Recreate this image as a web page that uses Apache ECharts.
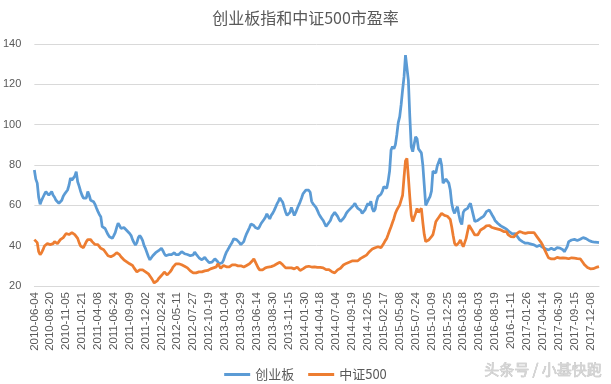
<!DOCTYPE html>
<html>
<head>
<meta charset="utf-8">
<script src="https://cdn.jsdelivr.net/npm/echarts@6/dist/echarts.min.js"></script>
<style>
html,body{margin:0;padding:0;background:#fff;}
#chart{width:611px;height:384px;}
</style>
</head>
<body>
<div id="chart"></div>
<script>
// Tick labels (every 11th weekly point)
const tickLabels = [
  "2010-06-04","2010-08-20","2010-11-05","2011-01-21","2011-04-08","2011-06-24",
  "2011-09-09","2011-12-02","2012-02-24","2012-05-11","2012-07-27","2012-10-19",
  "2013-01-04","2013-03-29","2013-06-14","2013-08-30","2013-11-15","2014-01-30",
  "2014-04-18","2014-07-04","2014-09-19","2014-12-05","2015-02-17","2015-05-08",
  "2015-07-24","2015-10-09","2015-12-25","2016-03-18","2016-06-03","2016-08-19",
  "2016-11-11","2017-01-26","2017-04-14","2017-06-30","2017-09-15","2017-12-08"
];
const pointsPerTick = 11;
const pointsAfterLast = 6;

// 创业板 PE (weekly)
const chinext = [
  77.5,73,71,64,60.5,62.5,64,65.5,66.8,66,65,
  65.5,66.8,65,64,62.5,61.8,61,61.8,62.5,64.5,65.7,
  66.5,67.6,70,73.5,72.5,72,74.5,76.7,71.7,69.5,67,
  65,63.6,63,63.6,66.8,65,62.5,62,61.8,60.5,58.7,
  57,55.5,54.4,49.4,49,48.5,47,45.5,44.4,44,43.6,
  45,46.5,49,51.1,50,48.5,48,49,48.5,47.5,47,
  46,45,43,41.5,40.3,41.5,44,45,44,42.5,40,
  38.5,36.5,34.5,33,34,35,35.5,36.5,37,37.5,38.3,
  38.7,37.5,36,35,34.6,35.5,36,35.5,35.8,36.5,35.5,
  35.2,35.6,36.4,37,36.2,36,35.4,35.6,35.2,35,34.6,
  35.4,36.8,35.8,35,34,33.5,33,33.8,34.2,33.2,32.4,
  31.6,31.2,31.8,32.5,33.5,32.8,32,31,30.2,31.5,32.8,
  35,36.8,38,39.3,40.5,41.7,43.4,44,43,42.5,41.5,
  40.5,40,42,44.2,46,47.5,49,50.8,50.5,50,49,
  49,48.4,49.5,51,51.7,53,54.1,55.8,54.5,53.3,55,
  56,57.4,59,60.7,62,63.7,62.5,61.5,59,56.6,55,
  54.1,56.5,59,57,55,56.5,58.3,60,61.6,63.5,65.7,
  66.5,67.5,68.2,67.5,66.5,62,60.7,60,59,57.5,55.8,
  54.5,53.5,52.5,51,49.5,50,51.5,52.5,54.5,55.5,56.5,
  55.5,54.5,53,52,52.5,53.5,54.5,56,57,57.5,58.5,
  59.3,60,61,59.5,58.5,59,57.5,56,56.5,57.7,59.5,
  61,60,62,58.5,56.9,58,62,64.3,65,65.5,67,
  69.3,69.5,68.5,72,77,87.4,89.1,88,90,95,101,
  104,110,117.2,123.8,134.5,135.4,122,104,89,86.6,87.4,
  94,93,88,87.4,86,80,70,60,61.5,63,64.3,
  67,77,77.5,76,79.5,81.5,83.3,80,71,72,73,
  72.5,71,67.6,61,57.7,56,58,59.3,55.2,52,50.5,
  56.5,57.7,58,58.5,60,61,58,55,52,51.5,52.5,
  53,53.6,54,54.5,55.5,56.9,57.5,57.7,56.5,55.2,54,
  52.5,51.9,51,50.2,49.8,49.4,49,48.8,48.2,47.6,46.8,
  46.5,45.8,46,46,45.5,44,43,42.5,42,41.5,41.2,
  41,41.2,41,40.8,41,40.4,40.2,39.6,40,40.2,39.6,
  39.2,38.8,38.5,38.2,37.9,38.4,38.7,38.2,37.9,38.5,39,
  38.7,38.8,39.2,38,37,37.2,39.5,42,42.5,42.8,43.2,
  43.1,43,42.6,42.8,43.2,43.6,44,44.5,43.5,42.8,42.6,
  42.3,42,41.8,41.7,41.5,41.6,41.5
];

// 中证500 PE (weekly)
const csi500 = [
  43,42.5,41.5,37,35.5,36.5,38,39.8,40.5,41,41.5,
  40.5,40.2,41,42,41.5,41,42,43,43.5,44,44.5,
  46,46.5,45.5,46,46.5,46,45.5,45,43.6,41.5,39.8,
  39.2,39,40.5,42,43,43.5,43,42,41.5,40.6,40.5,
  40.5,40.5,38.7,39.5,38,37,36,35,34.8,34.5,34.5,
  35.2,36,36.5,36.5,35.5,34.5,34,33,32.4,32,31.5,
  31,30.5,30.2,29,28,27,27.7,28,28.2,28,27.5,
  27,26.5,26,25.2,24,22.8,21.5,21.5,22.5,23.6,24.5,
  25.2,26,26.9,26,25.5,26,27,28,29.4,30,31,
  31,31,31,30.5,30.2,29.8,29.4,29,28.5,27.5,26.9,
  26.5,26.1,26.5,27,27,27,27,27.2,27.5,27.7,27.7,
  27.7,28.5,29.4,29,28.6,29.5,31,30,28.8,29.5,30.2,
  30.5,29.5,29,29.5,30,30.5,31,30.5,30,30,30.2,
  30,29.8,29.4,29.8,30.2,30.5,31,31.8,32.5,33.5,32,
  30.5,29,28,27.7,28,28.5,29,29.4,29.4,29.4,29.6,
  30,30.2,30.5,31,31.4,31.8,31,30.5,30,29,28.5,
  29,29.4,29,28.7,28.5,29,29.4,28.5,27.7,28,28.5,
  29,29.5,30.2,29.8,29.4,29.4,29.4,29.5,29.6,29.2,28.8,
  29.2,29.6,29,28.5,28.1,28,28.1,27.6,27.1,26.5,26.5,
  27.2,28,28.5,28.8,29.5,30.4,30.8,31.2,31.5,31.8,32,
  32.4,32.8,32.5,32,32.5,33.2,33.7,34,34.5,35,35.3,
  36,37,37.9,38.3,38.7,39,39.5,39.5,39.3,39,40,
  41.2,42.5,43.6,45.5,47.5,49.4,51.5,53.5,56,57.7,59,
  60.2,59.5,65,74,82,83.3,74,64,55,52,51.9,
  56,58.5,56.5,57.5,58.5,51.5,45.5,42,42.5,42.8,43.5,
  44.5,45.5,48.5,51.9,53,54,55,56,55.5,55,54.4,
  54.6,54.8,53,49.4,45,41.2,40,39.5,41.5,42.8,41,
  39.5,41.5,43.6,47,50.2,49.5,47.8,46.5,45.3,45.3,45.3,
  46.5,47.8,48,48.6,49.2,49.8,50.2,50,49.4,49,48.6,
  48.6,48.6,48.2,48,47.8,47.4,47,47.5,47,45.5,45,
  44.5,44,44.3,45,46,46.5,47,46.9,46.5,46.3,46.1,
  46.1,46.5,46.9,46.5,46,46.5,46.8,44.5,43.5,42.5,41.5,
  40.2,38.5,37,35.5,34,33.6,33.4,33.2,33.4,33.8,34.2,
  34,33.8,33.8,34,34,33.8,33.6,33.5,33.8,34,34,
  33.8,33.6,33.6,33.6,33.5,32.5,31.5,30.5,29.6,29.2,28.8,
  28.5,28.4,28.6,28.8,29.2,29.5,29.6
];

const yTicks = [20, 40, 60, 80, 100, 120, 140];

// Build weekly category list: each tick label followed by weekly dates
function fmt(d){
  const m = String(d.getUTCMonth()+1).padStart(2,'0');
  const day = String(d.getUTCDate()).padStart(2,'0');
  return d.getUTCFullYear() + '-' + m + '-' + day;
}
const categories = [];
tickLabels.forEach((lab, k) => {
  const n = (k === tickLabels.length - 1) ? pointsAfterLast + 1 : pointsPerTick;
  const base = new Date(lab + 'T00:00:00Z');
  for (let j = 0; j < n; j++) {
    if (j === 0) { categories.push(lab); }
    else { categories.push(fmt(new Date(base.getTime() + j * 7 * 86400000))); }
  }
});

const chart = echarts.init(document.getElementById('chart'), null, {renderer: 'canvas'});
chart.setOption({
  animation: false,
  backgroundColor: '#ffffff',
  title: {
    text: '创业板指和中证500市盈率',
    left: 'center',
    top: 5,
    textStyle: {fontSize: 16, fontWeight: 'normal', color: '#595959', fontFamily: '"Noto Sans CJK SC", sans-serif'}
  },
  grid: {left: 33, right: 12, top: 44, bottom: 98, containLabel: false},
  legend: {
    left: 'center',
    top: 363,
    icon: 'rect',
    itemWidth: 26,
    itemHeight: 3,
    itemGap: 14,
    textStyle: {fontSize: 13, color: '#595959', fontFamily: '"Noto Sans CJK SC", sans-serif'},
    data: ['创业板', '中证500']
  },
  xAxis: {
    type: 'category',
    data: categories,
    boundaryGap: false,
    axisLine: {lineStyle: {color: '#d9d9d9', width: 1}},
    axisTick: {show: false},
    axisLabel: {
      interval: pointsPerTick - 1,
      rotate: 90,
      fontSize: 11.5,
      color: '#595959',
      margin: 6,
      fontFamily: '"Liberation Sans", Arial, sans-serif'
    },
    splitLine: {show: false}
  },
  yAxis: {
    type: 'value',
    min: yTicks[0],
    max: yTicks[yTicks.length - 1],
    interval: 20,
    axisLine: {show: false},
    axisTick: {show: false},
    axisLabel: {fontSize: 11, color: '#595959', margin: 13, fontFamily: '"Liberation Sans", Arial, sans-serif'},
    splitLine: {lineStyle: {color: '#d9d9d9', width: 1}}
  },
  series: [
    {
      name: '创业板',
      type: 'line',
      data: chinext,
      showSymbol: false,
      symbol: 'none',
      lineStyle: {color: '#5b9bd5', width: 2.75},
      itemStyle: {color: '#5b9bd5'}
    },
    {
      name: '中证500',
      type: 'line',
      data: csi500,
      showSymbol: false,
      symbol: 'none',
      lineStyle: {color: '#ed7d31', width: 2.75},
      itemStyle: {color: '#ed7d31'}
    }
  ],
  graphic: [
    {
      type: 'text',
      right: 9,
      top: 362,
      style: {
        text: '头条号 / 小基快跑',
        fontSize: 15,
        fill: '#d4d4d4',
        stroke: '#b5b5b5',
        lineWidth: 0.5,
        fontFamily: '"Noto Sans CJK SC", sans-serif'
      }
    }
  ]
});
</script>
</body>
</html>
